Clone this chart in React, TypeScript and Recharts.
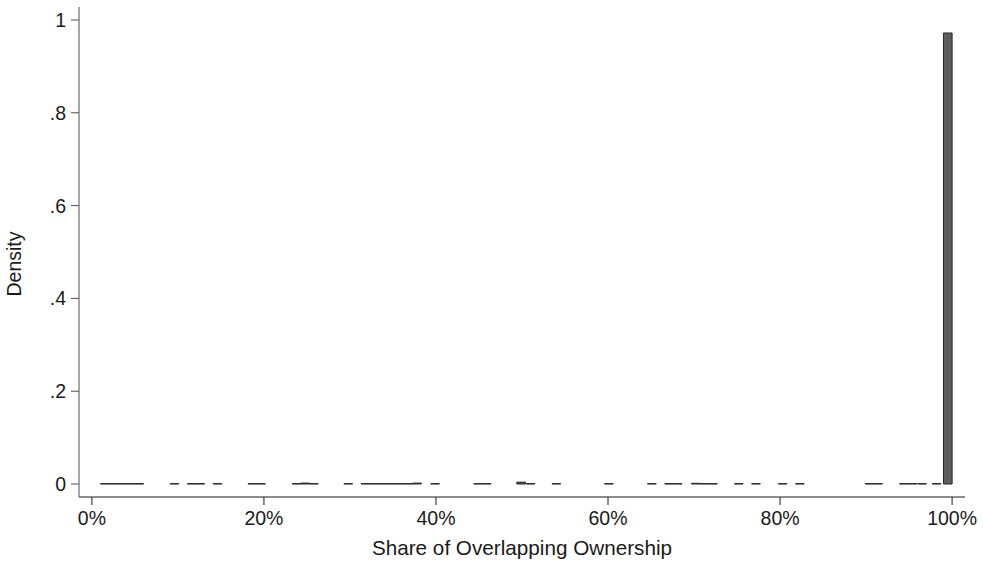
import React from 'react';
import { BarChart, Bar, XAxis, YAxis, Label } from 'recharts';

// Histogram bins (bin centre in % of overlapping ownership) and their density
const binCenters: number[] = [
  1.5, 2.5, 3.5, 4.5, 5.5, 9.6, 11.6, 12.6, 14.6, 18.65, 19.65, 23.8, 24.8, 25.8,
  29.8, 31.8, 32.8, 33.8, 34.8, 35.8, 36.8, 37.8, 39.9, 44.9, 45.9, 49.9, 51.0,
  54.0, 60.1, 65.1, 67.1, 68.1, 70.2, 71.2, 72.2, 75.2, 77.2, 80.3, 82.3, 90.4,
  91.4, 94.4, 95.4, 96.5, 98.2, 99.5,
];
const densities: number[] = [
  0.0008, 0.0008, 0.0008, 0.0008, 0.0008, 0.0008, 0.0008, 0.0008, 0.0008, 0.0008,
  0.0008, 0.0008, 0.002, 0.0008, 0.0008, 0.0008, 0.0008, 0.0008, 0.0008, 0.0008,
  0.0008, 0.002, 0.0008, 0.0008, 0.0008, 0.004, 0.0008, 0.0008, 0.0008, 0.0008,
  0.0008, 0.0008, 0.0015, 0.0008, 0.0008, 0.0008, 0.0008, 0.0008, 0.0008, 0.0008,
  0.0008, 0.0008, 0.0008, 0.0008, 0.0008, 0.972,
];
const xTicks: number[] = [0, 20, 40, 60, 80, 100];
const yTicks: number[] = [0, 0.2, 0.4, 0.6, 0.8, 1];

const data = binCenters.map((x, i) => ({ x, density: densities[i] }));

const FONT = '"Liberation Sans", Arial, Helvetica, sans-serif';
const TEXT = '#1a1a1a';

const fmtY = (v: number) => {
  if (v === 0) return '0';
  if (v === 1) return '1';
  return String(v).replace(/^0/, '');
};

export default function App() {
  return (
    <div style={{ position: 'absolute', left: 0, top: 0, width: 983, height: 565, background: '#fff', fontFamily: FONT }}>
      <BarChart
        width={983}
        height={565}
        data={data}
        margin={{ top: 7, right: 18, bottom: 18, left: 19 }}
      >
        <XAxis
          dataKey="x"
          type="number"
          domain={[-1.5, 101.5]}
          allowDataOverflow
          ticks={xTicks}
          tickFormatter={(v: number) => `${v}%`}
          height={50}
          tickSize={8}
          tickMargin={6}
          stroke="#1a1a1a"
          tick={{ fill: TEXT, fontSize: 19.5, fontFamily: FONT }}
          interval={0}
        >
          <Label
            content={(props: any) => {
              const vb = props.viewBox || { x: 79, y: 497, width: 886, height: 50 };
              return (
                <text
                  x={vb.x + vb.width / 2}
                  y={555}
                  textAnchor="middle"
                  fill={TEXT}
                  fontSize={20.7}
                  fontFamily={FONT}
                >
                  Share of Overlapping Ownership
                </text>
              );
            }}
          />
        </XAxis>
        <YAxis
          type="number"
          domain={[-0.028, 1.028]}
          allowDataOverflow
          ticks={yTicks}
          tickFormatter={fmtY}
          width={60}
          tickSize={8}
          tickMargin={5}
          stroke="#4d4d4d"
          tick={{ fill: TEXT, fontSize: 19.5, fontFamily: FONT }}
          interval={0}
        >
          <Label
            content={() => (
              <text
                x={14}
                y={264}
                transform="rotate(-90 14 264)"
                textAnchor="middle"
                dominantBaseline="central"
                fill={TEXT}
                fontSize={19.5}
                fontFamily={FONT}
              >
                Density
              </text>
            )}
          />
        </YAxis>
        <Bar
          dataKey="density"
          fill="#5e5e5e"
          stroke="#262626"
          strokeWidth={1}
          barSize={8.6}
          isAnimationActive={false}
        />
      </BarChart>
    </div>
  );
}
